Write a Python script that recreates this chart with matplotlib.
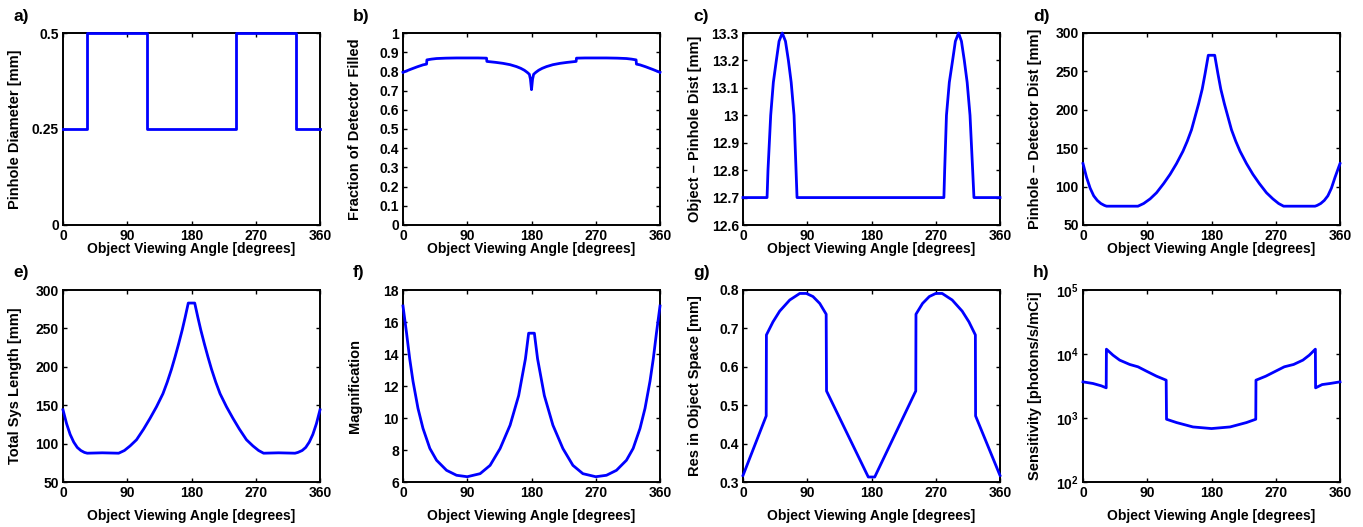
import matplotlib
matplotlib.use("Agg")
import matplotlib.pyplot as plt

# global style: bold helvetica-like text, MATLAB-ish boxes
plt.rcParams['font.family'] = ['Liberation Sans', 'DejaVu Sans']
plt.rcParams['font.weight'] = 'bold'
plt.rcParams['font.size'] = 9
plt.rcParams['mathtext.fontset'] = 'custom'
plt.rcParams['mathtext.rm'] = 'Liberation Sans:bold'
plt.rcParams['mathtext.bf'] = 'Liberation Sans:bold'

x_label = "Object Viewing Angle [degrees]"
x_ticks = [0, 90, 180, 270, 360]

# a) pinhole diameter
angle_a = [0, 33, 33, 118, 118, 242, 242, 326, 326, 360]
diameter = [0.25, 0.25, 0.5, 0.5, 0.25, 0.25, 0.5, 0.5, 0.25, 0.25]

# b) fraction of detector filled
angle_b = [0, 10, 20, 28, 33, 33.5, 40, 47, 60, 75, 90, 105, 117, 117.5, 130,
           140, 150, 159, 165, 170, 174, 177, 178.5, 180, 181.5, 183, 186, 190,
           195, 201, 210, 220, 230, 242.5, 243, 255, 270, 285, 300, 313, 320,
           326.5, 327, 332, 340, 350, 360]
filled = [0.795, 0.81, 0.824, 0.834, 0.838, 0.86, 0.864, 0.867, 0.869, 0.87,
          0.87, 0.87, 0.869, 0.852, 0.847, 0.842, 0.835, 0.825, 0.816, 0.806,
          0.795, 0.785, 0.76, 0.705, 0.76, 0.785, 0.795, 0.806, 0.816, 0.825,
          0.835, 0.842, 0.847, 0.852, 0.869, 0.87, 0.87, 0.87, 0.869, 0.867,
          0.864, 0.86, 0.838, 0.834, 0.824, 0.81, 0.795]

# c) object - pinhole distance
angle_c = [0, 33.7, 35, 38.8, 42.5, 46.7, 50.5, 55, 59.5, 63.6, 67.5, 71.5,
           74.3, 75.7, 281.4, 282.5, 285, 289, 293.6, 297.5, 302, 306, 310,
           314, 318, 321.7, 323.5, 360]
obj_pin = [12.7, 12.7, 12.8, 13.0, 13.12, 13.2, 13.27, 13.3, 13.27, 13.2,
           13.12, 13.0, 12.8, 12.7, 12.7, 12.8, 13.0, 13.12, 13.2, 13.27,
           13.3, 13.27, 13.2, 13.12, 13.0, 12.8, 12.7, 12.7]

# d) pinhole - detector distance
angle_d = [0, 5, 10, 15, 20, 25, 30, 33, 77, 85, 94, 103, 113, 122, 131, 140,
           146, 152, 157, 162, 167, 171, 175.5, 184.5, 189, 193, 198, 203, 208,
           214, 220, 229, 238, 247, 257, 266, 274, 281, 325, 328, 333, 338,
           343, 348, 353, 360]
pin_det = [130, 112, 98, 88, 82, 78, 75.5, 74.5, 74.5, 78, 84, 92, 104, 116,
           130, 146, 159, 174, 191, 208, 227, 247, 271, 271, 247, 227, 208,
           191, 174, 159, 146, 130, 116, 104, 92, 84, 78, 74.5, 74.5, 75.5,
           78, 82, 88, 98, 112, 130]

# e) total system length
angle_e = [0, 5, 10, 15, 20, 25, 30, 34, 55, 78, 86, 94, 103, 113, 122, 131,
           140, 146, 152, 157, 162, 167, 171, 175.5, 184.5, 189, 193, 198, 203,
           208, 214, 220, 229, 238, 247, 257, 266, 274, 281, 302, 325, 329,
           335, 340, 345, 350, 355, 360]
sys_len = [144, 126, 112, 102, 95, 91, 88.5, 87.5, 88, 87.5, 91, 97, 105, 119,
           133, 148, 165, 180, 197, 213, 230, 248, 264, 283, 283, 264, 248,
           230, 213, 197, 180, 165, 148, 133, 119, 105, 97, 91, 87.5, 88, 87.5,
           88.5, 91, 95, 102, 112, 126, 144]

# f) magnification
angle_f = [0, 5, 9.4, 14, 21, 28, 37.6, 47, 61, 75, 90, 108, 122, 136, 150,
           162, 171.5, 176, 184, 188.5, 198, 210, 224, 238, 252, 270, 285, 299,
           313, 322.4, 332, 339, 346, 350.6, 355, 360]
magnif = [17.0, 15.3, 13.7, 12.3, 10.6, 9.35, 8.1, 7.36, 6.73, 6.42, 6.33,
          6.52, 7.04, 8.09, 9.55, 11.4, 13.7, 15.3, 15.3, 13.7, 11.4, 9.55,
          8.09, 7.04, 6.52, 6.33, 6.42, 6.73, 7.36, 8.1, 9.35, 10.6, 12.3,
          13.7, 15.3, 17.0]

# g) resolution in object space
angle_g = [0, 32.5, 32.8, 42, 51.4, 65.5, 79.5, 88.8, 98, 107.5, 116.5, 117,
           175.5, 184.5, 242, 242.3, 251.5, 261, 270, 279, 293, 307, 316.5,
           325.5, 325.8, 360]
res_obj = [0.317, 0.472, 0.683, 0.717, 0.745, 0.774, 0.791, 0.791, 0.783,
           0.765, 0.737, 0.537, 0.313, 0.313, 0.537, 0.737, 0.765, 0.783,
           0.791, 0.791, 0.774, 0.745, 0.717, 0.683, 0.472, 0.317]

# h) sensitivity
angle_h = [0, 14, 25.7, 32.5, 32.8, 42, 51.4, 65.5, 77, 88.8, 103, 116.5, 117,
           131, 154, 180, 206, 229, 242, 242.3, 256, 270, 282, 295, 308, 317,
           325.5, 325.8, 335, 346, 360]
sensitivity = [3670, 3460, 3180, 2960, 11900, 9590, 8020, 6860, 6310, 5400,
               4500, 3900, 956, 849, 725, 684, 725, 849, 956, 3900, 4500, 5400,
               6310, 6860, 8020, 9590, 11900, 2960, 3330, 3460, 3670]

panels = [
    ("a)", angle_a, diameter, "Pinhole Diameter [mm]", [0, 0.25, 0.5]),
    ("b)", angle_b, filled, "Fraction of Detector Filled",
     [0, 0.1, 0.2, 0.3, 0.4, 0.5, 0.6, 0.7, 0.8, 0.9, 1]),
    ("c)", angle_c, obj_pin, "Object \u2013 Pinhole Dist [mm]",
     [12.6, 12.7, 12.8, 12.9, 13, 13.1, 13.2, 13.3]),
    ("d)", angle_d, pin_det, "Pinhole \u2013 Detector Dist [mm]",
     [50, 100, 150, 200, 250, 300]),
    ("e)", angle_e, sys_len, "Total Sys Length [mm]",
     [50, 100, 150, 200, 250, 300]),
    ("f)", angle_f, magnif, "Magnification", [6, 8, 10, 12, 14, 16, 18]),
    ("g)", angle_g, res_obj, "Res in Object Space [mm]",
     [0.3, 0.4, 0.5, 0.6, 0.7, 0.8]),
    ("h)", angle_h, sensitivity, "Sensitivity [photons/s/mCi]",
     [1e2, 1e3, 1e4, 1e5]),
]

W, H = 1363, 527
fig = plt.figure(figsize=(W / 100, H / 100), dpi=100)

# pixel layout of the axes boxes
lefts = [63, 403, 743, 1083]
tops = [33, 290]
ax_w, ax_h = 257, 192
# distance from the axes bottom to the x label, per row
xlab_gap = [17, 27]

for i, (tag, x, y, ylab, yt) in enumerate(panels):
    row, col = divmod(i, 4)
    l, t = lefts[col], tops[row]
    ax = fig.add_axes([l / W, 1 - (t + ax_h) / H, ax_w / W, ax_h / H])
    ax.plot(x, y, color=(0, 0, 1), lw=2, clip_on=False, zorder=3)
    if tag == "h)":
        ax.set_yscale("log")
        ax.set_yticks(yt)
        ax.set_yticklabels([r"$10^{%d}$" % p for p in [2, 3, 4, 5]])
        ax.minorticks_off()
    else:
        ax.set_yticks(yt)
        ax.set_yticklabels(["%g" % v for v in yt])
    ax.set_ylim(yt[0], yt[-1])
    ax.set_xlim(0, 360)
    ax.set_xticks(x_ticks)
    ax.set_xticklabels([str(v) for v in x_ticks])
    ax.tick_params(direction="in", top=True, right=True, length=3,
                   width=1, pad=3, labelsize=10)
    for s in ax.spines.values():
        s.set_linewidth(1.4)
    ax.set_xlabel(x_label, fontsize=10, fontweight="bold")
    ax.set_ylabel(ylab, fontsize=10.5, fontweight="bold")
    ax.xaxis.set_label_coords(0.5, -xlab_gap[row] / ax_h)
    ax.yaxis.set_label_coords(-41 / ax_w, 0.5)
    # panel letter
    fig.text((l - 50) / W, 1 - (t - 17) / H, tag, fontsize=12.5,
             fontweight="bold", va="center", ha="left")

fig.savefig("out.png", dpi=100)
